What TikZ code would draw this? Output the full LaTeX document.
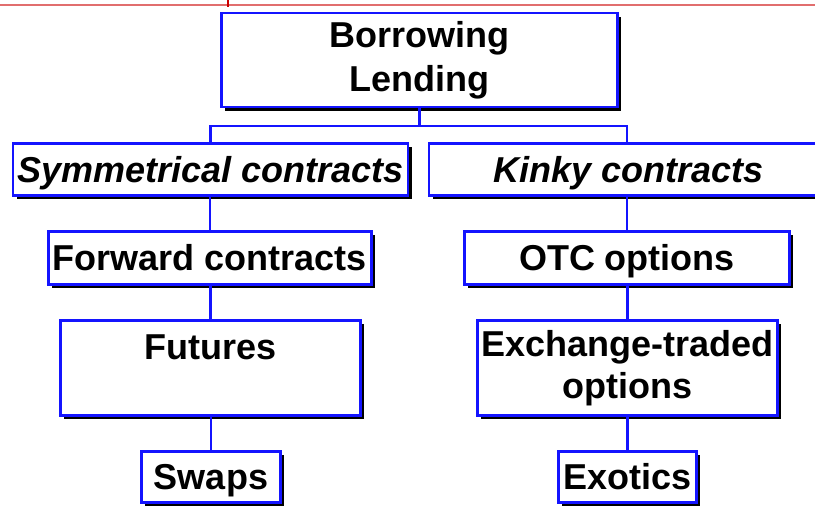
\documentclass[tikz,border=0pt]{standalone}
\usepackage{fontspec}
\setmainfont{Liberation Sans}
\usetikzlibrary{shadows}
\definecolor{boxblue}{RGB}{20,20,255}
\definecolor{topred}{RGB}{225,110,110}
\tikzset{
  box/.style={draw=boxblue, line width=2.5pt, fill=white, inner sep=0pt,
    align=center, font=\fontsize{36}{42}\selectfont\bfseries,
    general shadow={fill=black, shadow xshift=3.5pt, shadow yshift=-3.5pt}},
  oneline/.style={box, text height=33pt, text depth=8pt},
  link/.style={draw=boxblue, line width=2.5pt}
}
\begin{document}
\begin{tikzpicture}[x=1pt,y=-1pt]
\useasboundingbox (0,0) rectangle (815,506);
\clip (0,0) rectangle (815,506);
% red header rule
\draw[topred, line width=1.6pt] (0,4.7) -- (815,4.7);
\draw[red!80!black, line width=1.6pt] (228,0) -- (228,7);
% nodes
\node[box, minimum width=396pt, minimum height=94pt, font=\fontsize{36}{44}\selectfont\bfseries] (top) at (419.5,60) {Borrowing\\Lending};
\node[oneline, minimum width=395pt, minimum height=52pt] (sym) at (210.5,169.5) {\itshape Symmetrical contracts};
\node[oneline, minimum width=400pt, minimum height=52pt] (kinky) at (629,169.5) {\itshape Kinky contracts};
\node[oneline, minimum width=323pt, minimum height=53pt] (fwd) at (210,258) {Forward contracts};
\node[oneline, minimum width=325pt, minimum height=53pt] (otc) at (627,258) {OTC options};
\node[box, minimum width=300pt, minimum height=95pt] (fut) at (210.5,368) {Futures\\\mbox{}};
\node[box, minimum width=300pt, minimum height=95pt] (exch) at (627.5,368) {Exchange-traded\\options};
\node[oneline, minimum width=139pt, minimum height=51pt] (swaps) at (211,477) {Swaps};
\node[oneline, minimum width=138pt, minimum height=51pt] (exo) at (627.5,477) {Exotics};
% connectors
\coordinate (busy) at (0,126);
\draw[link] (top.south) -- (top.south |- busy);
\draw[link] (sym.north) -- (sym.north |- busy) -- (otc.north |- busy) -- (otc.north |- kinky.north);
\draw[link] (sym.south) -- (sym.south -| fwd.north) -- (fwd.north);
\draw[link] (otc.north |- kinky.south) -- (otc.north);
\draw[link] (fwd.south) -- (fwd.south -| fut.north) -- (fut.north);
\draw[link] (otc.south) -- (otc.south -| exch.north) -- (exch.north);
\draw[link] (fut.south) -- (fut.south -| swaps.north) -- (swaps.north);
\draw[link] (exch.south) -- (exch.south -| exo.north) -- (exo.north);
\end{tikzpicture}
\end{document}
